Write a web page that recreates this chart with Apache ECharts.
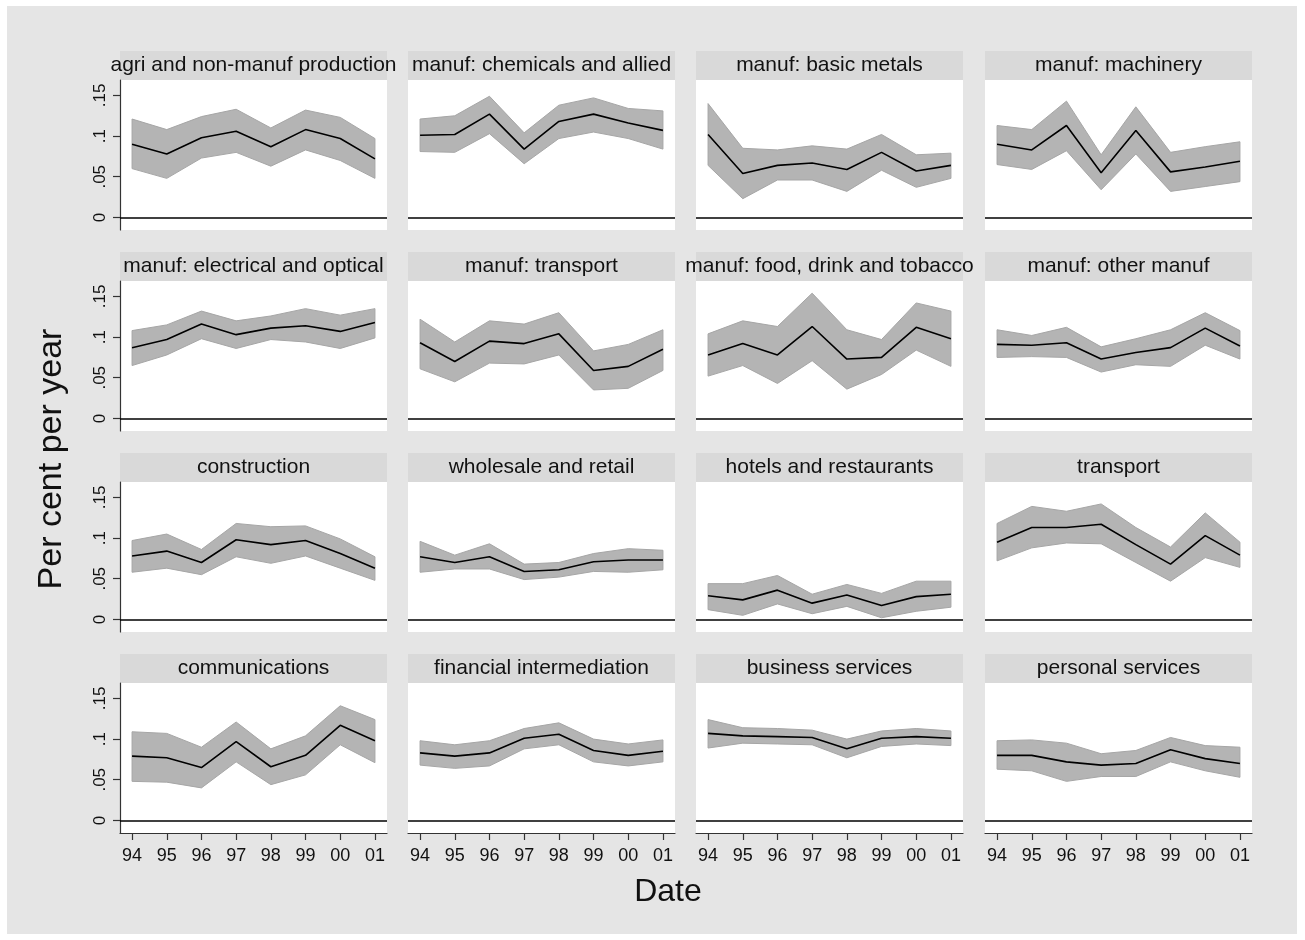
<!DOCTYPE html>
<html>
<head>
<meta charset="utf-8">
<script src="https://cdn.jsdelivr.net/npm/echarts@6/dist/echarts.min.js"></script>
<style>
html,body{margin:0;padding:0;background:#fff;}
#chart{width:1305px;height:940px;}
</style>
</head>
<body>
<div id="chart"></div>
<script>
// ---------- data ----------
const years = ['94','95','96','97','98','99','00','01'];
const yTicks = [0, 0.05, 0.1, 0.15];
const yTickLabels = ['0', '.05', '.1', '.15'];
const panelTitles = [
  'agri and non-manuf production', 'manuf: chemicals and allied', 'manuf: basic metals', 'manuf: machinery',
  'manuf: electrical and optical', 'manuf: transport', 'manuf: food, drink and tobacco', 'manuf: other manuf',
  'construction', 'wholesale and retail', 'hotels and restaurants', 'transport',
  'communications', 'financial intermediation', 'business services', 'personal services'
];
// point estimates
const estAgri      = [0.090, 0.078, 0.098, 0.106, 0.087, 0.108, 0.097, 0.072];
const estChem      = [0.101, 0.102, 0.127, 0.084, 0.118, 0.127, 0.116, 0.107];
const estMetals    = [0.102, 0.054, 0.064, 0.067, 0.059, 0.080, 0.057, 0.064];
const estMach      = [0.090, 0.083, 0.113, 0.055, 0.107, 0.056, 0.062, 0.069];
const estElec      = [0.087, 0.097, 0.116, 0.103, 0.111, 0.114, 0.107, 0.118];
const estMTrans    = [0.093, 0.070, 0.095, 0.092, 0.104, 0.059, 0.064, 0.085];
const estFood      = [0.078, 0.092, 0.078, 0.113, 0.073, 0.075, 0.112, 0.098];
const estOther     = [0.091, 0.090, 0.093, 0.073, 0.081, 0.087, 0.111, 0.089];
const estConstr    = [0.078, 0.084, 0.070, 0.098, 0.092, 0.097, 0.081, 0.063];
const estWhole     = [0.077, 0.070, 0.077, 0.059, 0.061, 0.071, 0.073, 0.073];
const estHotels    = [0.029, 0.024, 0.036, 0.020, 0.030, 0.017, 0.028, 0.031];
const estTransport = [0.095, 0.113, 0.113, 0.117, 0.092, 0.068, 0.103, 0.079];
const estComm      = [0.079, 0.077, 0.065, 0.097, 0.066, 0.080, 0.117, 0.098];
const estFin       = [0.083, 0.079, 0.083, 0.101, 0.106, 0.086, 0.080, 0.085];
const estBus       = [0.107, 0.104, 0.103, 0.102, 0.088, 0.101, 0.103, 0.101];
const estPers      = [0.080, 0.080, 0.072, 0.068, 0.070, 0.087, 0.076, 0.070];
// upper confidence bounds
const hiAgri      = [0.121, 0.108, 0.124, 0.133, 0.110, 0.132, 0.123, 0.097];
const hiChem      = [0.121, 0.125, 0.149, 0.104, 0.138, 0.147, 0.134, 0.131];
const hiMetals    = [0.140, 0.085, 0.083, 0.088, 0.084, 0.102, 0.077, 0.079];
const hiMach      = [0.113, 0.108, 0.143, 0.077, 0.136, 0.080, 0.087, 0.093];
const hiElec      = [0.108, 0.115, 0.132, 0.120, 0.126, 0.135, 0.127, 0.135];
const hiMTrans    = [0.122, 0.094, 0.120, 0.116, 0.130, 0.083, 0.091, 0.109];
const hiFood      = [0.104, 0.120, 0.113, 0.154, 0.109, 0.097, 0.142, 0.132];
const hiOther     = [0.109, 0.102, 0.112, 0.088, 0.098, 0.109, 0.130, 0.108];
const hiConstr    = [0.097, 0.105, 0.086, 0.118, 0.114, 0.115, 0.099, 0.077];
const hiWhole     = [0.096, 0.079, 0.093, 0.068, 0.070, 0.081, 0.087, 0.085];
const hiHotels    = [0.044, 0.044, 0.054, 0.031, 0.043, 0.032, 0.047, 0.047];
const hiTransport = [0.118, 0.139, 0.133, 0.142, 0.113, 0.089, 0.131, 0.095];
const hiComm      = [0.109, 0.107, 0.090, 0.121, 0.088, 0.104, 0.141, 0.124];
const hiFin       = [0.098, 0.093, 0.098, 0.113, 0.120, 0.100, 0.094, 0.099];
const hiBus       = [0.124, 0.114, 0.113, 0.111, 0.100, 0.110, 0.113, 0.110];
const hiPers      = [0.098, 0.099, 0.095, 0.082, 0.086, 0.102, 0.092, 0.090];
// lower confidence bounds
const loAgri      = [0.060, 0.048, 0.073, 0.080, 0.063, 0.083, 0.070, 0.048];
const loChem      = [0.081, 0.080, 0.103, 0.066, 0.097, 0.105, 0.097, 0.084];
const loMetals    = [0.064, 0.023, 0.046, 0.046, 0.032, 0.058, 0.037, 0.048];
const loMach      = [0.065, 0.059, 0.082, 0.034, 0.078, 0.032, 0.038, 0.044];
const loElec      = [0.065, 0.078, 0.098, 0.086, 0.097, 0.094, 0.086, 0.099];
const loMTrans    = [0.061, 0.045, 0.068, 0.067, 0.078, 0.035, 0.037, 0.059];
const loFood      = [0.052, 0.065, 0.043, 0.071, 0.036, 0.054, 0.084, 0.064];
const loOther     = [0.075, 0.076, 0.075, 0.057, 0.066, 0.064, 0.090, 0.073];
const loConstr    = [0.058, 0.063, 0.055, 0.077, 0.069, 0.078, 0.063, 0.048];
const loWhole     = [0.058, 0.062, 0.062, 0.049, 0.052, 0.059, 0.058, 0.061];
const loHotels    = [0.012, 0.005, 0.019, 0.007, 0.016, 0.002, 0.010, 0.015];
const loTransport = [0.072, 0.088, 0.094, 0.093, 0.070, 0.047, 0.076, 0.064];
const loComm      = [0.048, 0.047, 0.040, 0.072, 0.044, 0.056, 0.093, 0.071];
const loFin       = [0.068, 0.064, 0.067, 0.088, 0.093, 0.072, 0.067, 0.072];
const loBus       = [0.089, 0.095, 0.094, 0.093, 0.077, 0.091, 0.094, 0.092];
const loPers      = [0.063, 0.061, 0.048, 0.054, 0.054, 0.072, 0.061, 0.053];

const estimates = [estAgri, estChem, estMetals, estMach, estElec, estMTrans, estFood, estOther,
  estConstr, estWhole, estHotels, estTransport, estComm, estFin, estBus, estPers];
const uppers = [hiAgri, hiChem, hiMetals, hiMach, hiElec, hiMTrans, hiFood, hiOther,
  hiConstr, hiWhole, hiHotels, hiTransport, hiComm, hiFin, hiBus, hiPers];
const lowers = [loAgri, loChem, loMetals, loMach, loElec, loMTrans, loFood, loOther,
  loConstr, loWhole, loHotels, loTransport, loComm, loFin, loBus, loPers];

// ---------- layout ----------
const FONT = '"Liberation Sans", Arial, Helvetica, sans-serif';
const colX = [120, 408, 696, 985];
const stripTop = [51, 252, 453, 654];
const PW = 267, STRIP_H = 29, PH = 150;
const xIdx = years.map((_, i) => i);

const grids = [], xAxes = [], yAxes = [], series = [], titles = [], graphics = [];

graphics.push({type:'rect', shape:{x:7, y:6, width:1290, height:928}, style:{fill:'#e5e5e5'}, z:-10, silent:true});

function bandRenderer(lo, hi) {
  return function (params, api) {
    if (params.dataIndex !== 0) return;
    const pts = [];
    for (let i = 0; i < hi.length; i++) pts.push(api.coord([i, hi[i]]));
    for (let i = lo.length - 1; i >= 0; i--) pts.push(api.coord([i, lo[i]]));
    return {type: 'polygon', shape: {points: pts},
      style: {fill: '#b4b4b4', stroke: '#a6a6a6', lineWidth: 1}};
  };
}

for (let p = 0; p < 16; p++) {
  const r = Math.floor(p / 4), c = p % 4;
  const left = colX[c], top = stripTop[r] + STRIP_H;
  graphics.push({type:'rect', shape:{x:left, y:stripTop[r], width:PW, height:STRIP_H},
    style:{fill:'#d9d9d9'}, z:-5, silent:true});
  titles.push({
    text: panelTitles[p], left: left + PW / 2, top: stripTop[r], textAlign: 'center',
    padding: 0,
    textStyle: {fontFamily: FONT, fontSize: 21, fontWeight: 'normal', color: '#111', lineHeight: STRIP_H, height: STRIP_H}
  });
  grids.push({left: left, top: top, width: PW, height: PH, show: true, backgroundColor: '#fff', borderWidth: 0});
  const bottomRow = r === 3, firstCol = c === 0;
  xAxes.push({
    type: 'value', gridIndex: p, min: -0.3475, max: 7.3475, position: 'bottom',
    axisLine: {show: bottomRow, onZero: false, lineStyle: {color: '#333', width: 1.2}},
    axisTick: {show: bottomRow, customValues: xIdx, length: 7, lineStyle: {color: '#333', width: 1.2}},
    axisLabel: {show: bottomRow, customValues: xIdx, margin: 14, fontFamily: FONT, fontSize: 18, color: '#111',
      formatter: v => years[Math.round(v)]},
    splitLine: {show: false}
  });
  yAxes.push({
    type: 'value', gridIndex: p, min: -0.0155, max: 0.169,
    axisLine: {show: firstCol, onZero: false, lineStyle: {color: '#333', width: 1.2}},
    axisTick: {show: firstCol, customValues: yTicks, length: 7, lineStyle: {color: '#333', width: 1.2}},
    axisLabel: {show: firstCol, customValues: yTicks, rotate: 90, margin: 11, fontFamily: FONT, fontSize: 17, color: '#111',
      formatter: v => yTickLabels[yTicks.findIndex(t => Math.abs(t - v) < 1e-9)]},
    splitLine: {show: false}
  });
  const lo = lowers[p], hi = uppers[p], est = estimates[p];
  series.push({
    type: 'custom', xAxisIndex: p, yAxisIndex: p, silent: true, z: 2,
    data: lo.map((v, i) => [i, v, hi[i]]),
    encode: {x: 0, y: [1, 2]},
    renderItem: bandRenderer(lo, hi)
  });
  series.push({
    type: 'line', xAxisIndex: p, yAxisIndex: p, symbol: 'none', silent: true,
    data: est.map((v, i) => [i, v]),
    lineStyle: {color: '#000', width: 1.6}, z: 4,
    markLine: {silent: true, symbol: ['none', 'none'], label: {show: false},
      lineStyle: {color: '#000', width: 1.6, type: 'solid'}, data: [{yAxis: 0}], animation: false}
  });
}

graphics.push({type:'text', x: 52, y: 459, rotation: Math.PI / 2,
  style:{text: 'Per cent per year', font: '34px ' + FONT, fill: '#111', textAlign: 'center', textVerticalAlign: 'middle'}});
graphics.push({type:'text', x: 668, y: 892,
  style:{text: 'Date', font: '32px ' + FONT, fill: '#111', textAlign: 'center', textVerticalAlign: 'middle'}});

const chart = echarts.init(document.getElementById('chart'), null, {renderer: 'canvas'});
chart.setOption({
  animation: false,
  backgroundColor: '#fff',
  title: titles,
  grid: grids,
  xAxis: xAxes,
  yAxis: yAxes,
  series: series,
  graphic: graphics
});
</script>
</body>
</html>
